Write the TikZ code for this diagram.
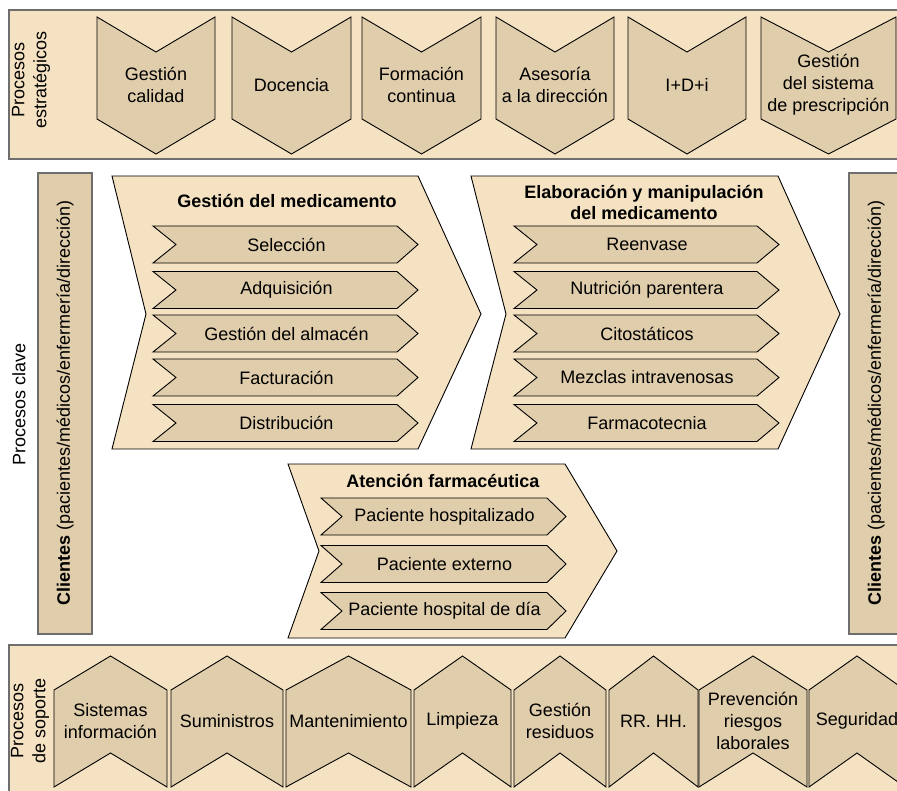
\documentclass[tikz,border=0pt]{standalone}
\usepackage{fontspec}
\setmainfont{Liberation Sans}
\definecolor{bandfill}{HTML}{F5E2C2}
\definecolor{chevfill}{HTML}{E0CDAB}
\definecolor{bandline}{HTML}{6E6E6E}
\tikzset{
  txt/.style={inner sep=0pt, font=\fontsize{18}{22}\selectfont, align=center},
  band/.style={fill=bandfill, draw=bandline, line width=1.8pt},
  clientbar/.style={fill=chevfill, draw=bandline, line width=1.8pt},
  chev/.style={fill=chevfill, draw=black, line width=0.9pt, line join=miter},
  bigchev/.style={fill=bandfill, draw=black, line width=0.9pt}
}
\begin{document}
\begin{tikzpicture}[x=1pt,y=-1pt]
  \clip (0,0) rectangle (897,791);
  \fill[white] (0,0) rectangle (897,791);

  % bandas
  \draw[band] (9,10) rectangle (910,159);
  \draw[band] (9,645) rectangle (910,800);
  \draw[clientbar] (38,173) rectangle (92,634);
  \draw[clientbar] (849,173) rectangle (910,634);

  \node[txt, rotate=90] (lblest) at (31,80) {Procesos\\estratégicos};
  \node[txt, rotate=90] (lblclave) at (19,404) {Procesos clave};
  \node[txt, rotate=90] (lblsop) at (30,721) {Procesos\\de soporte};
  \node[txt, rotate=90] (clileft) at (65,403)
    {\textbf{Clientes} (pacientes/médicos/enfermería/dirección)};
  \node[txt, rotate=90] (cliright) at (876,403)
    {\textbf{Clientes} (pacientes/médicos/enfermería/dirección)};

  % procesos estrategicos
  \foreach \a/\b/\t [count=\i] in
    {97/215/{Gestión\\calidad}, 232/351/Docencia,
     362/481/{Formación\\continua}, 496/614/{Asesoría\\a la dirección},
     628/746/I+D+i, 761/896/{Gestión\\del sistema\\de prescripción}}
    {\draw[chev] (\a,17) -- ({(\a+\b)/2},52) -- (\b,17) -- (\b,119)
       -- ({(\a+\b)/2},154) -- (\a,119) -- cycle;
     \node[txt] (est\i) at ({(\a+\b)/2},85) {\t};}

  % procesos de soporte
  \foreach \a/\b/\t [count=\i] in
    {54/167/{Sistemas\\información}, 171/283/Suministros,
     286/411/Mantenimiento, 414/511/Limpieza, 514/606/{Gestión\\residuos},
     609/698/RR. HH., 699/807/{Prevención\\riesgos\\laborales},
     809/905/Seguridad}
    {\draw[chev] (\a,690) -- ({(\a+\b)/2},656) -- (\b,690) -- (\b,787)
       -- ({(\a+\b)/2},753) -- (\a,787) -- cycle;
     \node[txt] (sop\i) at ({(\a+\b)/2},721) {\t};}

  % procesos clave
  \draw[bigchev] (112,176) -- (418,176) -- (481,314) -- (418,449)
    -- (112,449) -- (146,314) -- cycle;
  \draw[bigchev] (471,176) -- (778,176) -- (840,314) -- (778,449)
    -- (471,449) -- (506,314) -- cycle;
  \draw[bigchev] (288,464) -- (565,464) -- (617,551) -- (565,638)
    -- (288,638) -- (319,551) -- cycle;

  \node[txt, font=\fontsize{18}{22}\selectfont\bfseries] (gestmed) at (287,201)
    {Gestión del medicamento};
  \node[txt, font=\fontsize{18}{21}\selectfont\bfseries] (elabmed) at (644,202)
    {Elaboración y manipulación\\del medicamento};
  \node[txt, font=\fontsize{18}{22}\selectfont\bfseries] (atfarm) at (443,481)
    {Atención farmacéutica};

  \foreach \y/\t [count=\i] in
    {244.5/Selección, 290/Adquisición, 333.5/Gestión del almacén,
     377.5/Facturación, 423/Distribución}
    {\draw[chev] (153,\y-18.5) -- (397,\y-18.5) -- (418,\y) -- (397,\y+18.5)
       -- (153,\y+18.5) -- (176,\y) -- cycle;
     \node[txt] (gm\i) at (286.5,\y) {\t};}

  \foreach \y/\t [count=\i] in
    {244.5/Reenvase, 290/Nutrición parentera, 333.5/Citostáticos,
     377.5/Mezclas intravenosas, 423/Farmacotecnia}
    {\draw[chev] (514,\y-18.5) -- (757,\y-18.5) -- (779,\y) -- (757,\y+18.5)
       -- (514,\y+18.5) -- (537,\y) -- cycle;
     \node[txt] (em\i) at (647,\y) {\t};}

  \foreach \y/\t [count=\i] in
    {516.5/Paciente hospitalizado, 564/Paciente externo,
     611/Paciente hospital de día}
    {\draw[chev] (321,\y-18.5) -- (547,\y-18.5) -- (566,\y) -- (547,\y+18.5)
       -- (321,\y+18.5) -- (342,\y) -- cycle;
     \node[txt] (af\i) at (444.5,\y) {\t};}
\end{tikzpicture}
\end{document}
